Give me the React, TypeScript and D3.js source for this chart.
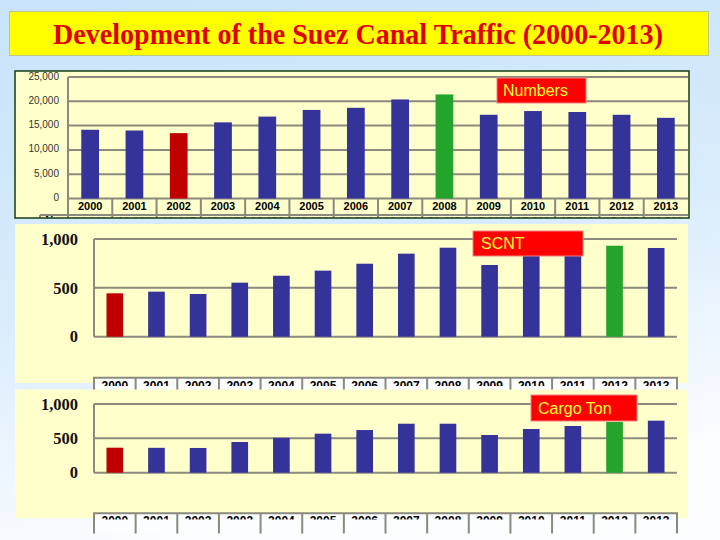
import React from 'react';
import * as d3 from 'd3';

const years = ['2000', '2001', '2002', '2003', '2004', '2005', '2006', '2007', '2008', '2009', '2010', '2011', '2012', '2013'];
const numbers = [14141, 13986, 13447, 15667, 16850, 18224, 18664, 20384, 21415, 17228, 17993, 17799, 17225, 16596];
const scnt = [444, 461, 437, 553, 624, 676, 747, 850, 911, 734, 846, 929, 931, 908];
const cargo = [364, 362, 360, 447, 507, 568, 621, 713, 713, 549, 636, 680, 740, 757];
const numberTicks = [0, 5000, 10000, 15000, 20000, 25000];
const tonTicks = [0, 500, 1000];
const numbersRed = '2002';
const numbersGreen = '2008';
const tonRed = '2000';
const tonGreen = '2012';

const NAVY = '#333399';
const RED = '#c00000';
const GREEN = '#22a52a';
const GRID = '#8a8a7e';
const SANS = 'Arial, "Liberation Sans", Helvetica, sans-serif';
const SERIF = '"Times New Roman", "Liberation Serif", serif';
const fmt = d3.format(',');

function colorFor(year: string, red: string, green: string) {
  if (year === red) return RED;
  if (year === green) return GREEN;
  return NAVY;
}

function LabelBox({ x, y, w, h, text, tx }: { x: number; y: number; w: number; h: number; text: string; tx: number }) {
  return (
    <g>
      <rect x={x} y={y} width={w} height={h} fill="#ff0000" stroke="#f08080" strokeWidth={1} />
      <text x={tx} y={y + h / 2} dy="0.36em" fill="#ffff33" fontFamily={SANS} fontSize={16}>
        {text}
      </text>
    </g>
  );
}

function TonChart({
  id, values, top, bottom, y0, y1000, tableY, textClip, vBottom, label,
}: {
  id: string; values: number[]; top: number; bottom: number; y0: number; y1000: number;
  tableY: number; textClip: number; vBottom: number;
  label: { x: number; y: number; w: number; h: number; text: string; tx: number };
}) {
  const x = d3.scaleBand().domain(years).range([94, 677]).padding(0);
  const y = d3.scaleLinear().domain([0, 1000]).range([y0, y1000]);
  const bw = x.bandwidth() * 0.4;
  return (
    <g>
      <rect x={15} y={top} width={673} height={bottom - top} fill="#ffffcc" />
      {tonTicks.map((t) => (
        <g key={t}>
          <line x1={94} x2={677} y1={y(t)} y2={y(t)} stroke={GRID} strokeWidth={2} />
          <text x={78} y={y(t)} dy="0.35em" textAnchor="end" fontFamily={SERIF} fontWeight="bold" fontSize={16.5} fill="#111">
            {fmt(t)}
          </text>
        </g>
      ))}
      <line x1={94} x2={94} y1={y(1000)} y2={y(0)} stroke={GRID} strokeWidth={2} />
      {years.map((yr, i) => (
        <rect
          key={yr}
          x={(x(yr) as number) + (x.bandwidth() - bw) / 2}
          y={y(values[i])}
          width={bw}
          height={y(0) - y(values[i])}
          fill={colorFor(yr, tonRed, tonGreen)}
        />
      ))}
      <LabelBox {...label} />
      <clipPath id={id}>
        <rect x={0} y={tableY} width={720} height={textClip - tableY} />
      </clipPath>
      <rect x={94} y={tableY} width={583} height={vBottom - tableY} fill="#fbfdff" />
      <line x1={93} x2={678} y1={tableY} y2={tableY} stroke={GRID} strokeWidth={2} />
      {years.map((yr) => (
        <line key={yr} x1={x(yr) as number} x2={x(yr) as number} y1={tableY} y2={vBottom} stroke={GRID} strokeWidth={2} />
      ))}
      <line x1={677} x2={677} y1={tableY} y2={vBottom} stroke={GRID} strokeWidth={2} />
      <g clipPath={`url(#${id})`}>
        {years.map((yr) => (
          <text key={yr} x={(x(yr) as number) + x.bandwidth() / 2} y={tableY + 12} textAnchor="middle" fontFamily={SANS} fontWeight="bold" fontSize={12} fill="#000">
            {yr}
          </text>
        ))}
      </g>
    </g>
  );
}

export default function App() {
  const xTop = d3.scaleBand().domain(years).range([68, 688]).padding(0);
  const yTop = d3.scaleLinear().domain([0, 25000]).range([198.5, 77]);
  const bwTop = xTop.bandwidth() * 0.4;

  return (
    <div style={{ position: 'fixed', left: 0, top: 0, width: 720, height: 540 }}>
      <svg width={720} height={540} style={{ display: 'block' }}>
        <defs>
          <linearGradient id="bg" x1="0" y1="0" x2="0.25" y2="1">
            <stop offset="0" stopColor="#c8e3fa" />
            <stop offset="0.55" stopColor="#d9ecfc" />
            <stop offset="1" stopColor="#fbfdff" />
          </linearGradient>
          <clipPath id="topRow2">
            <rect x={0} y={215} width={720} height={2.5} />
          </clipPath>
        </defs>
        <rect x={0} y={0} width={720} height={540} fill="url(#bg)" />

        {/* Title */}
        <rect x={9.5} y={11.5} width={699} height={44} fill="#ffff00" stroke="#b9c98a" strokeWidth={1} />
        <text x={358} y={44} textAnchor="middle" fontFamily={SERIF} fontWeight="bold" fontSize={29} fill="#e00000" textLength={610} lengthAdjust="spacingAndGlyphs">
          Development of the Suez Canal Traffic (2000-2013)
        </text>

        {/* Top chart: Numbers */}
        <rect x={15} y={71} width={674} height={147} fill="#ffffcc" />
        {numberTicks.map((t) => (
          <g key={t}>
            <line x1={60} x2={688} y1={yTop(t)} y2={yTop(t)} stroke={GRID} strokeWidth={2} />
            <text x={59} y={yTop(t) - 1} dy="0.35em" textAnchor="end" fontFamily={SANS} fontSize={10} fill="#333">
              {fmt(t)}
            </text>
          </g>
        ))}
        <rect x={60} y={75} width={8} height={130} fill="#ffffcc" />
        <line x1={68} x2={68} y1={yTop(25000)} y2={218} stroke={GRID} strokeWidth={2} />
        {years.map((yr, i) => (
          <rect
            key={yr}
            x={(xTop(yr) as number) + (xTop.bandwidth() - bwTop) / 2}
            y={yTop(numbers[i])}
            width={bwTop}
            height={yTop(0) - yTop(numbers[i])}
            fill={colorFor(yr, numbersRed, numbersGreen)}
          />
        ))}
        {/* top table */}
        <line x1={40} x2={688} y1={215} y2={215} stroke={GRID} strokeWidth={2} />
        <line x1={40} x2={40} y1={215} y2={218} stroke={GRID} strokeWidth={2} />
        {years.map((yr) => (
          <line key={yr} x1={xTop(yr) as number} x2={xTop(yr) as number} y1={yTop(0)} y2={218} stroke={GRID} strokeWidth={2} />
        ))}
        {years.map((yr) => (
          <text key={yr} x={(xTop(yr) as number) + xTop.bandwidth() / 2} y={210} textAnchor="middle" fontFamily={SANS} fontWeight="bold" fontSize={11} fill="#000">
            {yr}
          </text>
        ))}
        <g clipPath="url(#topRow2)">
          <text x={54} y={224} textAnchor="middle" fontFamily={SANS} fontWeight="bold" fontSize={11} fill="#000">No.</text>
          {years.map((yr, i) => (
            <text key={yr} x={(xTop(yr) as number) + xTop.bandwidth() / 2} y={224.5} textAnchor="middle" fontFamily={SANS} fontWeight="bold" fontSize={11} fill="#000">
              {fmt(numbers[i])}
            </text>
          ))}
        </g>
        <rect x={15} y={71} width={674} height={147} fill="none" stroke="#143c14" strokeWidth={1.5} />
        <LabelBox x={497} y={78} w={89} h={25} text="Numbers" tx={503} />

        {/* SCNT chart */}
        <TonChart
          id="scntClip"
          values={scnt}
          top={224}
          bottom={383}
          y0={336.7}
          y1000={239}
          tableY={377.7}
          textClip={386}
          vBottom={390}
          label={{ x: 473, y: 231, w: 110, h: 25, text: 'SCNT', tx: 481 }}
        />

        {/* Cargo chart */}
        <TonChart
          id="cargoClip"
          values={cargo}
          top={389.5}
          bottom={518}
          y0={472.7}
          y1000={404}
          tableY={513.3}
          textClip={519.5}
          vBottom={533.5}
          label={{ x: 531, y: 395, w: 106, h: 26, text: 'Cargo Ton', tx: 538 }}
        />
      </svg>
    </div>
  );
}
